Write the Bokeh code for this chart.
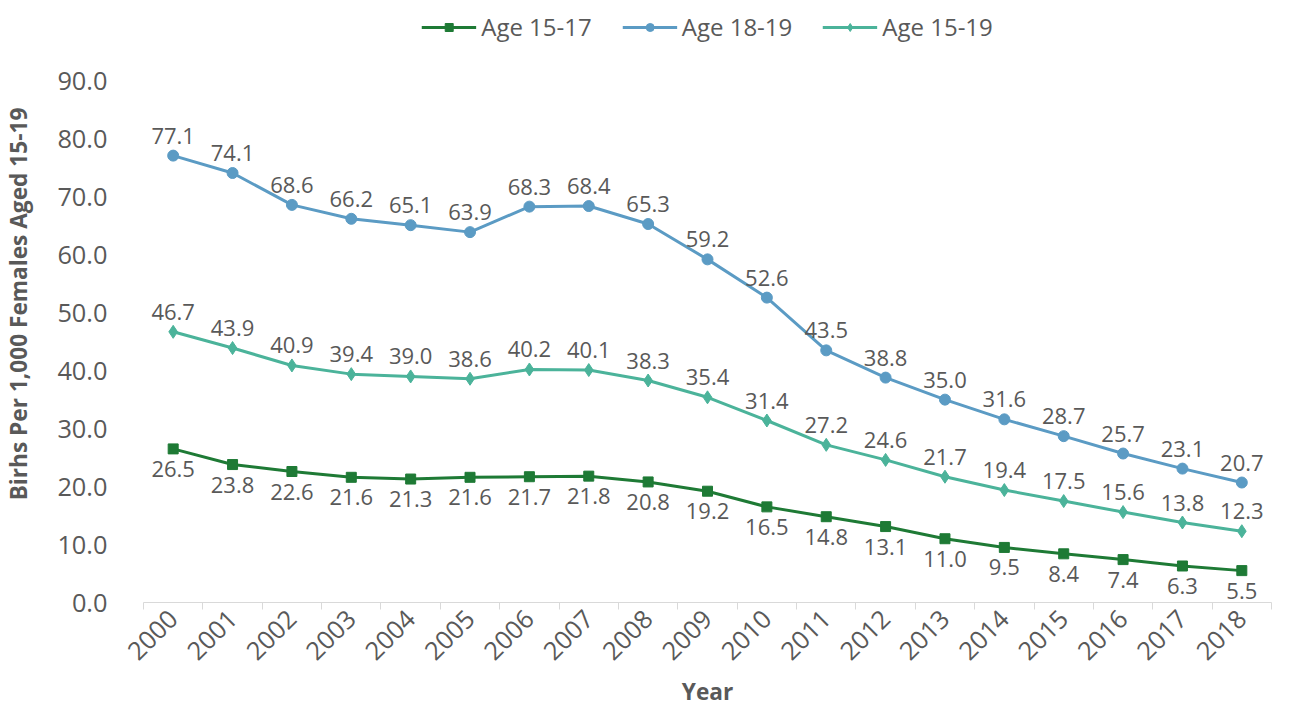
from bokeh.plotting import figure
from bokeh.models import FixedTicker, Legend, LegendItem, Range1d
from bokeh.core.properties import value
from bokeh.embed import file_html
from bokeh.resources import INLINE
import math

years = [str(y) for y in range(2000, 2019)]
age_15_17 = [26.5, 23.8, 22.6, 21.6, 21.3, 21.6, 21.7, 21.8, 20.8, 19.2, 16.5, 14.8, 13.1, 11.0, 9.5, 8.4, 7.4, 6.3, 5.5]
age_18_19 = [77.1, 74.1, 68.6, 66.2, 65.1, 63.9, 68.3, 68.4, 65.3, 59.2, 52.6, 43.5, 38.8, 35.0, 31.6, 28.7, 25.7, 23.1, 20.7]
age_15_19 = [46.7, 43.9, 40.9, 39.4, 39.0, 38.6, 40.2, 40.1, 38.3, 35.4, 31.4, 27.2, 24.6, 21.7, 19.4, 17.5, 15.6, 13.8, 12.3]

FONT = "Open Sans"
GREY = "#595959"
x = list(range(len(years)))

p = figure(width=1276, height=710, output_backend="svg", toolbar_location=None,
           x_range=Range1d(-0.5, len(years) - 0.5), y_range=Range1d(0, 103))
p.min_border_left = 10
p.min_border_right = 5
p.min_border_top = 5
p.min_border_bottom = 0
p.outline_line_color = None
p.grid.grid_line_color = None

p.xaxis.ticker = FixedTicker(ticks=x, minor_ticks=[i - 0.5 for i in range(len(years) + 1)])
p.xaxis.major_label_overrides = {i: y for i, y in enumerate(years)}
p.xaxis.major_tick_line_color = None
p.xaxis.minor_tick_in = 0
p.xaxis.minor_tick_out = 7
p.xaxis.minor_tick_line_color = "#d9d9d9"
p.xaxis.axis_line_color = "#d9d9d9"
p.xaxis.major_label_orientation = math.pi / 4
p.xaxis.axis_label = "Year"

p.yaxis.ticker = FixedTicker(ticks=list(range(0, 91, 10)))
p.yaxis.major_label_overrides = {v: f"{v:.1f}" for v in range(0, 91, 10)}
p.yaxis.axis_line_color = None
p.yaxis.major_tick_line_color = None
p.yaxis.minor_tick_line_color = None
p.yaxis.axis_label = "Birhs Per 1,000 Females Aged 15-19"

for ax in (p.xaxis, p.yaxis):
    ax.major_label_text_font = FONT
    ax.major_label_text_font_size = "19pt"
    ax.major_label_text_color = GREY
    ax.axis_label_text_font = FONT
    ax.axis_label_text_font_size = "17pt"
    ax.axis_label_text_font_style = "bold"
    ax.axis_label_text_color = GREY
p.yaxis.major_label_standoff = 30
p.yaxis.axis_label_standoff = 20

series = [
    ("Age 15-17", age_15_17, "#1e7a35", "square", 10, "below"),
    ("Age 18-19", age_18_19, "#5b9bc4", "circle", 11, "above"),
    ("Age 15-19", age_15_19, "#4bb39a", "diamond", 13, "above"),
]
items = []
for name, vals, color, marker, size, pos in series:
    r1 = p.line(x, vals, line_color=color, line_width=3)
    r2 = p.scatter(x, vals, marker=marker, size=size, fill_color=color, line_color=color)
    labels = [f"{v:.1f}" for v in vals]
    if pos == "above":
        p.text(x, vals, text=labels, y_offset=-12, text_align="center", text_baseline="bottom",
               text_font=value(FONT), text_font_size="16.5pt", text_color=GREY)
    else:
        p.text(x, vals, text=labels, y_offset=12, text_align="center", text_baseline="top",
               text_font=value(FONT), text_font_size="16.5pt", text_color=GREY)
    items.append(LegendItem(label=name, renderers=[r1, r2]))

legend = Legend(items=items, orientation="horizontal", location="top_center",
                label_text_font=FONT, label_text_font_size="18pt", label_text_color=GREY,
                border_line_color=None, background_fill_alpha=0,
                glyph_width=55, spacing=30, padding=0, margin=5)
p.add_layout(legend)

open("out.html", "w").write(file_html(p, INLINE))
